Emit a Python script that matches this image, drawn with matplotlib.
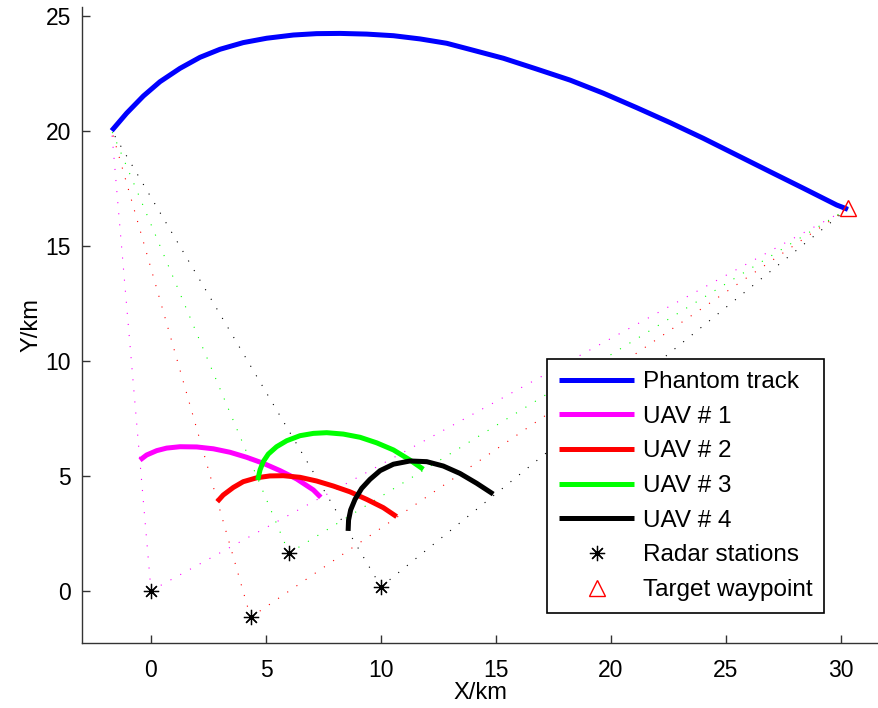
import matplotlib
matplotlib.use("Agg")
import matplotlib.pyplot as plt
import numpy as np

plt.rcParams['font.family'] = ['Liberation Sans', 'DejaVu Sans']

# ---- data (km) ----
phantom_x = [-1.71, -1.06, -0.33, 0.39, 1.26, 2.13, 3.00, 4.01, 5.03, 6.19, 7.20, 8.22,
             9.38, 10.54, 11.70, 12.86, 14.00, 15.32, 16.77, 18.22, 19.67, 21.12,
             22.57, 24.01, 25.47, 26.91, 28.36, 29.81, 30.30]
phantom_y = [20.00, 20.76, 21.51, 22.13, 22.71, 23.19, 23.54, 23.83, 24.02, 24.16, 24.22, 24.23,
             24.20, 24.13, 23.99, 23.80, 23.50, 23.15, 22.68, 22.20, 21.63, 21.00,
             20.35, 19.67, 18.94, 18.22, 17.50, 16.77, 16.58]

uav1_x = [-0.48, -0.19, 0.25, 0.68, 1.26, 1.99, 2.71, 3.43, 4.16, 4.88, 5.61, 6.33, 7.06, 7.38]
uav1_y = [5.68, 5.90, 6.09, 6.20, 6.26, 6.25, 6.17, 6.02, 5.80, 5.54, 5.22, 4.86, 4.38, 4.06]

uav2_x = [2.88, 3.14, 3.58, 4.01, 4.60, 5.17, 5.75, 6.48, 7.20, 7.93, 8.65, 9.38, 10.10, 10.68]
uav2_y = [3.87, 4.16, 4.49, 4.74, 4.91, 4.99, 5.00, 4.93, 4.77, 4.55, 4.30, 3.97, 3.61, 3.22]

uav3_x = [4.64, 4.74, 4.88, 5.10, 5.46, 5.90, 6.48, 7.06, 7.64, 8.36, 9.09, 9.81, 10.54, 11.26, 11.84]
uav3_y = [4.81, 5.25, 5.61, 5.94, 6.26, 6.52, 6.74, 6.84, 6.87, 6.81, 6.67, 6.43, 6.12, 5.68, 5.28]

uav4_x = [8.57, 8.59, 8.68, 8.87, 9.16, 9.52, 9.96, 10.54, 11.26, 11.99, 12.71, 13.43, 14.16, 14.88]
uav4_y = [2.60, 3.07, 3.51, 3.97, 4.45, 4.84, 5.22, 5.50, 5.64, 5.61, 5.42, 5.10, 4.67, 4.20]

radar_x = [0.0, 4.33, 6.0, 10.0]
radar_y = [0.0, -1.16, 1.63, 0.17]

target_x = 30.32
target_y = 16.63

labels = ['Phantom track', 'UAV # 1', 'UAV # 2', 'UAV # 3', 'UAV # 4',
          'Radar stations', 'Target waypoint']
uav_colors = ['#ff00ff', '#ff0000', '#00ff00', '#000000']

W, H = 879, 708
fig = plt.figure(figsize=(W / 100, H / 100), dpi=100)
ax_l, ax_r, ax_b, ax_t = 82, 879, 642.7, 7
ax = fig.add_axes([ax_l / W, 1 - ax_b / H, (ax_r - ax_l) / W, (ax_b - ax_t) / H])

# dotted lines of sight
for rx, ry, c in zip(radar_x, radar_y, uav_colors):
    for (tx, ty) in [(phantom_x[0], phantom_y[0]), (target_x, target_y)]:
        ax.plot([rx, tx], [ry, ty], color=c, lw=0.8, dashes=(1, 9), zorder=1,
                dash_capstyle='butt')

ax.plot(phantom_x, phantom_y, color='#0000ff', lw=3.6, label=labels[0], zorder=3,
        solid_capstyle='butt', solid_joinstyle='round')
uavs = [(uav1_x, uav1_y), (uav2_x, uav2_y), (uav3_x, uav3_y), (uav4_x, uav4_y)]
for (ux, uy), c, lab in zip(uavs, uav_colors, labels[1:5]):
    ax.plot(ux, uy, color=c, lw=3.6, label=lab, zorder=3, solid_capstyle='butt',
            solid_joinstyle='round')

ax.plot(radar_x, radar_y, linestyle='none', marker=(8, 2, 0), ms=11, mew=0.9,
        color='black', label=labels[5], zorder=4)
ax.plot([target_x], [target_y], linestyle='none', marker='^', ms=11, mew=1,
        mfc='none', mec='red', label=labels[6], zorder=4)

ax.set_xlim(-3.0, (ax_r - 151) / 23.0)
ax.set_ylim(-(ax_b - 590.7) / 23.0, (590.7 - ax_t) / 23.0)
ax.set_xticks([0, 5, 10, 15, 20, 25, 30])
ax.set_yticks([0, 5, 10, 15, 20, 25])

for s in ['top', 'right']:
    ax.spines[s].set_visible(False)
for s in ['left', 'bottom']:
    ax.spines[s].set_color('#333333')
    ax.spines[s].set_linewidth(1.0)
ax.tick_params(direction='in', length=6, width=1, color='#333333',
               labelsize=16.5, pad=12)
ax.tick_params(axis='y', pad=8)

ax.set_xlabel('X/km', fontsize=17, labelpad=0)
ax.set_ylabel('Y/km', fontsize=17, labelpad=2)

leg = ax.legend(loc='upper left', bbox_to_anchor=(547 / W, 1 - 359 / H),
                bbox_transform=fig.transFigure, fontsize=17.5, frameon=True,
                fancybox=False, edgecolor='black', framealpha=1,
                handlelength=3.1, handletextpad=0.33, labelspacing=0.52,
                borderpad=0.5, borderaxespad=0)
leg.get_frame().set_linewidth(1.2)

fig.savefig('out.png', dpi=100)
